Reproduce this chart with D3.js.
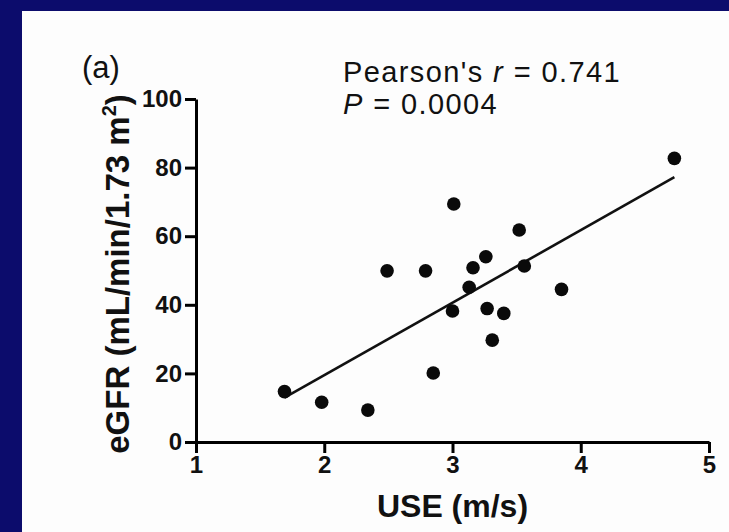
<!DOCTYPE html>
<html>
<head>
<meta charset="utf-8">
<script src="https://cdn.jsdelivr.net/npm/d3@7"></script>
<style>
  html, body { margin: 0; padding: 0; background: #0c0c6c; }
  svg { display: block; }
  text { font-family: "Liberation Sans", Arial, Helvetica, sans-serif; }
</style>
</head>
<body>
<svg id="chart" width="729" height="532"></svg>
<script>
// USE (m/s) and eGFR (mL/min/1.73 m²) for each subject
const useValues  = [1.69, 1.98, 2.34, 2.49, 2.79, 2.85, 3.00, 3.01, 3.13, 3.16, 3.26, 3.27, 3.31, 3.40, 3.52, 3.56, 3.85, 4.73];
const egfrValues = [14.7, 11.6,  9.3, 49.9, 49.9, 20.1, 38.2, 69.4, 45.1, 50.8, 54.0, 38.9, 29.7, 37.5, 61.8, 51.3, 44.5, 82.7];

const xTicks = [1, 2, 3, 4, 5];
const yTicks = [0, 20, 40, 60, 80, 100];

const panelLabel = "(a)";
const statR = "0.741";
const statP = "0.0004";

const points = useValues.map((u, i) => ({ x: u, y: egfrValues[i] }));

// least-squares fit through the points
const mx = d3.mean(useValues), my = d3.mean(egfrValues);
const sxy = d3.sum(points, d => (d.x - mx) * (d.y - my));
const sxx = d3.sum(points, d => (d.x - mx) * (d.x - mx));
const slope = sxy / sxx, intercept = my - slope * mx;
const fitLine = d3.extent(useValues).map(u => ({ x: u, y: intercept + slope * u }));

const svg = d3.select("#chart");

// white slide panel
svg.append("rect").attr("x", 22).attr("y", 11).attr("width", 707).attr("height", 521).attr("fill", "#fdfdfd");

const x = d3.scaleLinear().domain([1, 5]).range([196, 709]);
const y = d3.scaleLinear().domain([0, 100]).range([442, 99]);

const styleAxis = g => {
  g.select(".domain").attr("stroke", "#000").attr("stroke-width", 3);
  g.selectAll(".tick line").attr("stroke", "#000").attr("stroke-width", 3);
  g.selectAll(".tick text").attr("fill", "#111").attr("font-size", 24).attr("font-weight", "bold")
    .attr("font-family", "'Liberation Sans', Arial, sans-serif");
};

svg.append("g")
  .attr("transform", `translate(0,${y(0)})`)
  .call(d3.axisBottom(x).tickValues(xTicks).tickFormat(d3.format("d")).tickSize(11).tickSizeOuter(0).tickPadding(3))
  .call(styleAxis);

svg.append("g")
  .attr("transform", `translate(${x(1)},0)`)
  .call(d3.axisLeft(y).tickValues(yTicks).tickFormat(d3.format("d")).tickSize(11).tickSizeOuter(0).tickPadding(3))
  .call(styleAxis);

// regression line
svg.append("path")
  .datum(fitLine)
  .attr("fill", "none")
  .attr("stroke", "#111")
  .attr("stroke-width", 2.6)
  .attr("d", d3.line().x(d => x(d.x)).y(d => y(d.y)));

// subjects
svg.append("g").selectAll("circle")
  .data(points)
  .join("circle")
  .attr("cx", d => x(d.x))
  .attr("cy", d => y(d.y))
  .attr("r", 6.8)
  .attr("fill", "#0a0a0a");

// axis titles
svg.append("text")
  .attr("x", (x(1) + x(5)) / 2)
  .attr("y", 517)
  .attr("text-anchor", "middle")
  .attr("font-size", 32)
  .attr("font-weight", "bold")
  .attr("fill", "#111")
  .text("USE (m/s)");

const yTitle = svg.append("text")
  .attr("transform", `translate(129,274) rotate(-90)`)
  .attr("text-anchor", "middle")
  .attr("font-size", 33)
  .attr("font-weight", "bold")
  .attr("fill", "#111");
yTitle.append("tspan").text("eGFR (mL/min/1.73 m");
yTitle.append("tspan").attr("font-size", 20).attr("dy", -13).text("2");
yTitle.append("tspan").attr("dy", 13).text(")");

// panel label and correlation statistics
svg.append("text")
  .attr("x", 82).attr("y", 78)
  .attr("font-size", 31).attr("fill", "#111")
  .text(panelLabel);

const s1 = svg.append("text").attr("x", 343).attr("y", 82)
  .attr("font-size", 29).attr("letter-spacing", 1.4).attr("fill", "#111");
s1.append("tspan").text("Pearson's ");
s1.append("tspan").attr("font-style", "italic").text("r");
s1.append("tspan").text(" = " + statR);

const s2 = svg.append("text").attr("x", 343).attr("y", 114)
  .attr("font-size", 29).attr("letter-spacing", 1.4).attr("fill", "#111");
s2.append("tspan").attr("font-style", "italic").text("P");
s2.append("tspan").text(" = " + statP);
</script>
</body>
</html>
